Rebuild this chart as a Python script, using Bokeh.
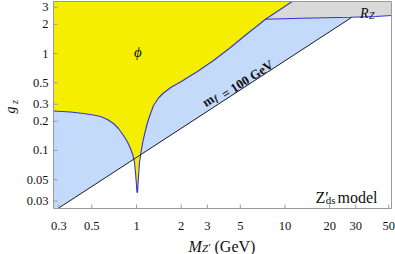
import math
from bokeh.plotting import figure
from bokeh.models import Range1d, Label
from bokeh.embed import file_html
from bokeh.resources import INLINE

# ---------------- data ----------------
x_ticks = [0.3, 0.5, 1, 2, 3, 5, 10, 20, 30, 50]
x_tick_labels = ["0.3", "0.5", "1", "2", "3", "5", "10", "20", "30", "50"]
y_ticks = [0.03, 0.05, 0.1, 0.2, 0.3, 0.5, 1, 2, 3]
y_tick_labels = ["0.03", "0.05", "0.1", "0.2", "0.3", "0.5", "1", "2", "3"]

x_min, x_max = 0.276, 52.2      # M_Z' range of the frame (GeV)
y_min, y_max = 0.0252, 3.44     # g_z range of the frame

# lower edge of the yellow (phi) region, left to right, up to the top of the frame
phi_edge_M = [0.276, 0.3592, 0.4395, 0.5133, 0.5723, 0.6376, 0.6998, 0.7562, 0.8173,
              0.8696, 0.9112, 0.9471, 0.9694, 0.9845, 0.9968, 1.0077,
              1.0155, 1.0249, 1.0363, 1.0476, 1.0722, 1.0975, 1.1321, 1.1768, 1.2231,
              1.3018, 1.4068, 1.5200, 1.7209, 1.9785, 2.2397, 2.5755, 2.9151, 3.3008,
              3.7661, 4.2970, 4.9023, 5.5935, 6.4321, 7.3942, 11.19]
phi_edge_g = [0.2554, 0.2493, 0.2406, 0.2322, 0.2241, 0.2087, 0.1897, 0.1685, 0.1427,
              0.1223, 0.1048, 0.0887, 0.0751, 0.0593, 0.0467, 0.0368,
              0.0368, 0.0467, 0.0593, 0.0751, 0.0953, 0.1180, 0.1462, 0.1853, 0.2241,
              0.2910, 0.3477, 0.3916, 0.4516, 0.5086, 0.5728, 0.6526, 0.7434, 0.8472,
              0.9888, 1.1535, 1.3622, 1.6083, 1.8993, 2.2542, 3.44]

# lower edge of the grey R_Z region
rz_edge_M = [7.3942, 12.73, 27.63, 40.72, 52.2]
rz_edge_g = [2.2542, 2.308, 2.364, 2.409, 2.467]

# m_f = 100 GeV line (ends on the R_Z edge)
mf_M = [0.296, 28.07]
mf_g = [0.0252, 2.352]
mf_top_M = 41.1   # same line continued to the top of the frame

# ---------------- layout / style ----------------
W, H = 395, 254
FL, FR, FT, FB = 53, 391, 1, 208   # plotting box inside the canvas (px)

YELLOW = "#f6ee00"
LIGHTBLUE = "#c4dafa"
GREY = "#d9d9d9"
EDGE = "#3333d8"
FRAME = "#9a9a9a"
INK = "#111111"
SERIF = "Liberation Serif"

# the canvas-wide frame: extend the data box so that it sits at FL..FR, FT..FB
lx = math.log10(x_max / x_min) / (FR - FL)
ly = math.log10(y_max / y_min) / (FB - FT)
xr = Range1d(x_min * 10 ** (-FL * lx), x_max * 10 ** ((W - FR) * lx))
yr = Range1d(y_min * 10 ** (-(H - FB) * ly), y_max * 10 ** (FT * ly))

p = figure(width=W, height=H, x_axis_type="log", y_axis_type="log",
           x_range=xr, y_range=yr, x_axis_location=None, y_axis_location=None,
           output_backend="svg", toolbar_location=None,
           min_border=0, min_border_left=0, min_border_right=0,
           min_border_top=0, min_border_bottom=0)
p.grid.visible = False
p.outline_line_color = None
p.background_fill_color = "white"
p.border_fill_color = "white"

# light-blue region: everything above the m_f line
p.patch([x_min, x_min, mf_top_M, mf_M[0]], [y_min, y_max, y_max, mf_g[0]],
        fill_color=LIGHTBLUE, line_color=None)
# yellow phi region
p.patch(phi_edge_M + [x_min], phi_edge_g + [y_max], fill_color=YELLOW, line_color=None)
# grey R_Z region
p.patch(rz_edge_M + [x_max, phi_edge_M[-1]], rz_edge_g + [y_max, phi_edge_g[-1]],
        fill_color=GREY, line_color=None)

# boundaries
p.line(phi_edge_M, phi_edge_g, line_color=EDGE, line_width=1.1)
p.line(rz_edge_M, rz_edge_g, line_color=EDGE, line_width=1.1)
p.line(mf_M, mf_g, line_color="#1a1a1a", line_width=1)

# frame box and inward ticks
p.quad(left=x_min, right=x_max, bottom=y_min, top=y_max,
       fill_color=None, line_color=FRAME, line_width=1)
p.ray(x=x_ticks, y=[y_min] * len(x_ticks), length=4, angle=math.pi / 2,
      length_units="screen", line_color=FRAME, line_width=1)
p.ray(x=[x_min] * len(y_ticks), y=y_ticks, length=4, angle=0,
      length_units="screen", line_color=FRAME, line_width=1)


def lab(text, x, y, size, style="normal", align="left", baseline="alphabetic",
        angle=0.0, xu="screen", yu="screen"):
    p.add_layout(Label(x=x, y=y, text=text, x_units=xu, y_units=yu,
                       text_font=SERIF, text_font_size=size, text_font_style=style,
                       text_align=align, text_baseline=baseline, angle=angle,
                       text_color=INK))


# tick labels
for t, s in zip(x_ticks, x_tick_labels):
    lab(s, t, H - 225, "12.5px", align="center", xu="data")
for t, s in zip(y_ticks, y_tick_labels):
    lab(s, FL - 5, t, "12.5px", align="right", baseline="middle", yu="data")

# axis titles (canvas px, y measured from the bottom)
lab("g", 10.4, H - 109.5, "14px", "italic", "center", angle=math.pi / 2)
lab("z", 13.5, H - 101.5, "10px", "italic", "center", angle=math.pi / 2)
lab("M", 188, H - 245.5, "16px", "italic")
lab("Z", 201.5, H - 247.5, "11px", "italic")
lab("\u2032", 208, H - 246, "11px")
lab("(GeV)", 214, H - 245.5, "16px")

# region labels
lab("\u03d5", 137.5, H - 51.5, "15px", "italic", "center", "middle")
lab("R", 359.5, H - 13, "14px", "italic")
lab("Z", 368.5, H - 15, "10px", "italic")

# model tag
lab("Z", 315, H - 197, "16px")
lab("\u2032", 324.8, H - 197, "16px")
lab("ds", 325.3, H - 199.5, "11px")
lab("model", 337, H - 197, "16px")

# m_f = 100 GeV along the line
ang = 0.577
lab("m", 203, H - 103, "13px", "bold", angle=ang)
lab("f", 214, H - 98.8, "9px", "bold italic", angle=ang)
lab("= 100 GeV", 222.2, H - 94.7, "13px", "bold", angle=ang)

open("out.html", "w").write(file_html(p, INLINE))
